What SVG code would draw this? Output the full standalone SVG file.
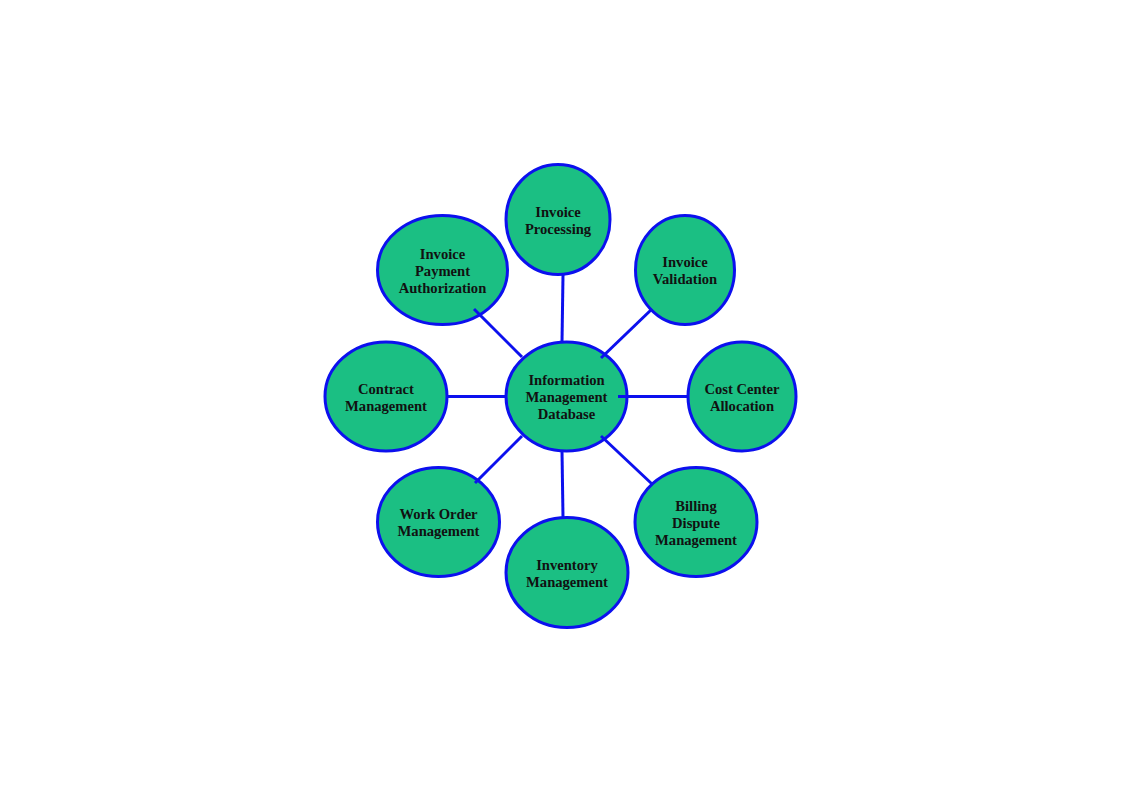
<svg xmlns="http://www.w3.org/2000/svg" width="1121" height="793" viewBox="0 0 1121 793">
<style>
.n{fill:#1bbf83;stroke:#0c10ee;stroke-width:3}
.c{stroke:#0c10ee;stroke-width:3;fill:none}
.t{font-family:"Liberation Serif",serif;font-weight:bold;font-size:14.6px;fill:#111;text-anchor:middle}
</style>
<rect width="1121" height="793" fill="#fff"/>
<g id="center"><ellipse class="n" cx="566.5" cy="396.5" rx="60.5" ry="54.5"/>
<text class="t" x="566.5" y="384.5">Information</text><text class="t" x="566.5" y="401.5">Management</text><text class="t" x="566.5" y="418.5">Database</text></g>
<g id="invoice-processing"><ellipse class="n" cx="558" cy="219.5" rx="52" ry="55"/>
<text class="t" x="558" y="216.5">Invoice</text><text class="t" x="558" y="233.5">Processing</text></g>
<g id="invoice-validation"><ellipse class="n" cx="685" cy="270" rx="49.5" ry="54.5"/>
<text class="t" x="685" y="267">Invoice</text><text class="t" x="685" y="284">Validation</text></g>
<g id="invoice-payment"><ellipse class="n" cx="442.5" cy="270" rx="65" ry="54.5"/>
<text class="t" x="442.5" y="258.5">Invoice</text><text class="t" x="442.5" y="275.5">Payment</text><text class="t" x="442.5" y="292.5">Authorization</text></g>
<g id="contract"><ellipse class="n" cx="386" cy="396.5" rx="61" ry="54.5"/>
<text class="t" x="386" y="393.5">Contract</text><text class="t" x="386" y="410.5">Management</text></g>
<g id="cost-center"><ellipse class="n" cx="742" cy="396.5" rx="54" ry="54.5"/>
<text class="t" x="742" y="393.5">Cost Center</text><text class="t" x="742" y="410.5">Allocation</text></g>
<g id="work-order"><ellipse class="n" cx="438.5" cy="522" rx="61" ry="54.5"/>
<text class="t" x="438.5" y="519">Work Order</text><text class="t" x="438.5" y="536">Management</text></g>
<g id="inventory"><ellipse class="n" cx="567" cy="572.5" rx="61" ry="55"/>
<text class="t" x="567" y="569.5">Inventory</text><text class="t" x="567" y="586.5">Management</text></g>
<g id="billing"><ellipse class="n" cx="696" cy="522" rx="61" ry="54.5"/>
<text class="t" x="696" y="510.5">Billing</text><text class="t" x="696" y="527.5">Dispute</text><text class="t" x="696" y="544.5">Management</text></g>
<g id="connectors">
<line class="c" x1="563" y1="275" x2="562" y2="342"/>
<line class="c" x1="652" y1="309" x2="601" y2="358"/>
<line class="c" x1="474" y1="309" x2="522" y2="357"/>
<line class="c" x1="447" y1="396.5" x2="506" y2="396.5"/>
<line class="c" x1="618" y1="396.5" x2="688" y2="396.5"/>
<line class="c" x1="522" y1="436" x2="475" y2="483"/>
<line class="c" x1="562" y1="451" x2="563" y2="517"/>
<line class="c" x1="601" y1="436" x2="652" y2="484"/>
</g>
</svg>
